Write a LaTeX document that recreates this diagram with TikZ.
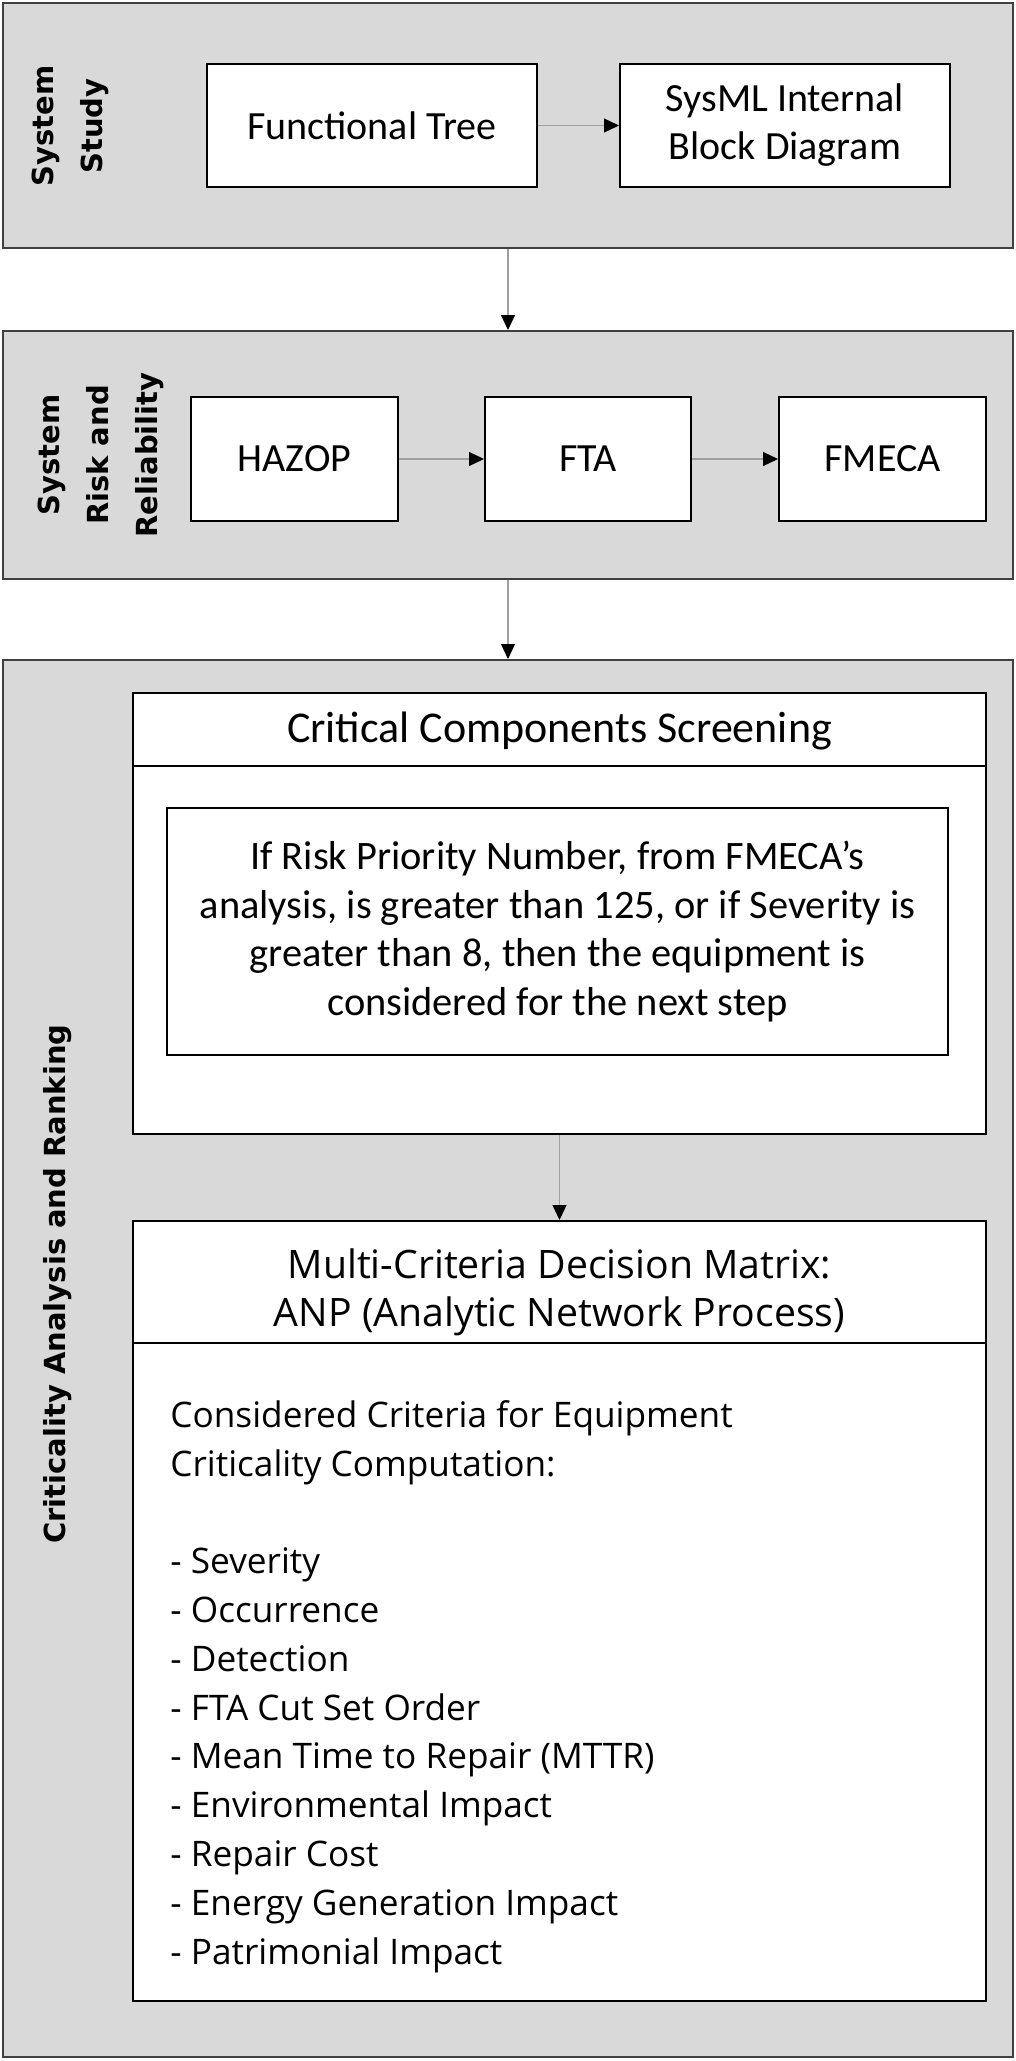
\documentclass[tikz,border=0pt]{standalone}
\usepackage{fontspec}
\setmainfont{Carlito}
\newfontfamily\labelfont{DejaVu Sans}
\newfontfamily\anpfont{Open Sans}
\usetikzlibrary{positioning}
\usetikzlibrary{arrows.meta}

\definecolor{panelGray}{RGB}{217,217,217}
\definecolor{linkGray}{RGB}{160,160,160}

\tikzset{
	panel/.style={rectangle, fill=panelGray, draw=black!75, line width=1pt, minimum width=505pt, inner sep=0pt},
	stageBox/.style={rectangle, fill=white, draw=black, line width=1pt, inner sep=0pt, align=center, font=\fontsize{20}{24}\selectfont},
	stageLabel/.style={rotate=90, align=center, inner sep=0pt, font=\labelfont\bfseries\fontsize{14.5}{24.5}\selectfont},
	bigBox/.style={rectangle, fill=white, draw=black, line width=1pt, minimum width=426.5pt, inner sep=0pt},
	anpText/.style={inner sep=0pt, font=\anpfont\fontsize{17.6}{24.4}\selectfont},
	link/.style={draw=linkGray, line width=0.6pt, -{Triangle[length=7.5pt, width=7pt, color=black]}},
}

\begin{document}
\begin{tikzpicture}[x=0.5pt, y=-0.5pt]
	\useasboundingbox (0,0) rectangle (1016,2061);

	% the three stages
	\node[panel, minimum height=122.5pt](studyPanel) at (508,125.5){};
	\node[panel, minimum height=124pt](riskPanel)   at (508,455){};
	\node[panel, minimum height=698.5pt](critPanel)  at (508,1358.5){};

	\node[stageLabel](studyLabel) at (70,126){System\\Study};
	\node[stageLabel](riskLabel)  at (101,455){System\\Risk and\\Reliability};
	\node[stageLabel](critLabel)  at (58,1284){Criticality Analysis and Ranking};

	% system study
	\node[stageBox, minimum width=165pt, minimum height=61.5pt](funcTree) at (372,125.5){Functional Tree};
	\node[stageBox, minimum width=165pt, minimum height=61.5pt, right=40.5pt of funcTree](ibdBox){SysML Internal\\Block Diagram};

	% risk and reliability
	\node[stageBox, minimum width=103.5pt, minimum height=62pt](hazop) at (294.5,459){HAZOP};
	\node[stageBox, minimum width=103pt,   minimum height=62pt, right=42.5pt of hazop](fta){FTA};
	\node[stageBox, minimum width=103.5pt, minimum height=62pt, right=43pt of fta](fmeca){FMECA};

	% screening
	\node[bigBox, minimum height=220.5pt](screenBox) at (559.5,913.5){};
	\draw[line width=1pt] ([yshift=-37pt]screenBox.north west) -- ([yshift=-37pt]screenBox.north east);
	\node[inner sep=0pt, font=\fontsize{22}{26}\selectfont](screenHead) at (559.5,731){Critical Components Screening};
	\node[rectangle, draw=black, line width=0.8pt, minimum width=390.5pt, minimum height=123.5pt, inner sep=0pt, align=center, font=\fontsize{20.2}{24.25}\selectfont](screenRule) at (557.5,931.5){If Risk Priority Number, from FMECA’s\\analysis, is greater than 125, or if Severity is\\greater than 8, then the equipment is\\considered for the next step};

	% decision matrix
	\node[bigBox, minimum height=390pt](anpBox) at (559.5,1611){};
	\draw[line width=1pt] ([yshift=-61.25pt]anpBox.north west) -- ([yshift=-61.25pt]anpBox.north east);
	\node[anpText, align=center, font=\anpfont\fontsize{19.6}{24}\selectfont](anpHead) at (559.5,1292){Multi-Criteria Decision Matrix:\\ANP (Analytic Network Process)};
	\node[anpText, align=left, anchor=north west](anpCriteria) at (170,1400){Considered Criteria for Equipment\\Criticality Computation:\\[24.4pt]- Severity\\- Occurrence\\- Detection\\- FTA Cut Set Order\\- Mean Time to Repair (MTTR)\\- Environmental Impact\\- Repair Cost\\- Energy Generation Impact\\- Patrimonial Impact};

	% links
	\draw[link] (funcTree) -- (ibdBox);
	\draw[link] (studyPanel) -- (riskPanel);
	\draw[link] (hazop) -- (fta);
	\draw[link] (fta) -- (fmeca);
	\draw[link] (riskPanel) -- (critPanel);
	\draw[link] (screenBox) -- (anpBox);
\end{tikzpicture}
\end{document}
